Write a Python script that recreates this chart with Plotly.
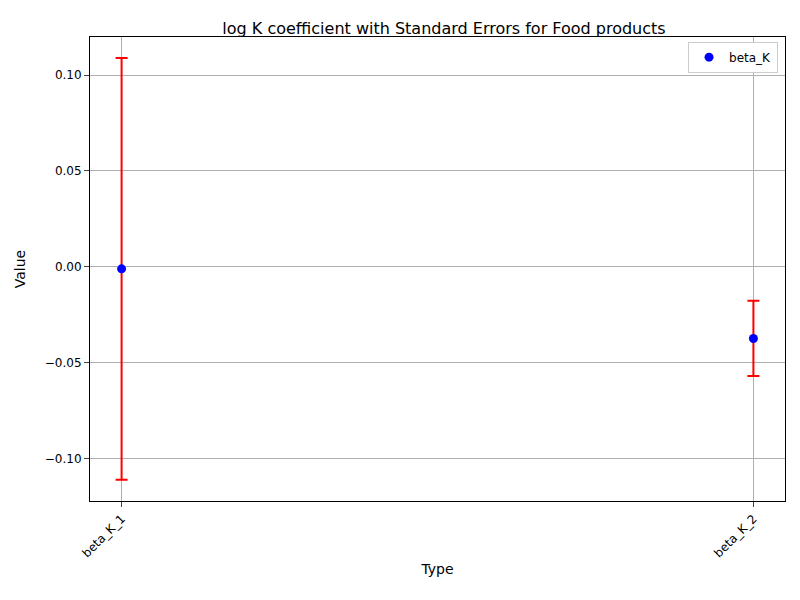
import plotly.graph_objects as go

types = ["beta_K_1", "beta_K_2"]
values = [-0.001, -0.0373]
errors = [0.1099, 0.0196]

fig = go.Figure()
fig.add_trace(go.Scatter(
    x=[0, 1], y=values, mode="markers", name="beta_K",
    marker=dict(color="blue", size=9),
    error_y=dict(type="data", array=errors, color="red", thickness=2, width=6),
))

axis_common = dict(showline=True, linecolor="black", mirror=True, ticks="outside",
                   gridcolor="#b0b0b0", zeroline=False, tickfont=dict(size=12, color="black"))
fig.update_layout(
    width=800, height=600,
    plot_bgcolor="white", paper_bgcolor="white",
    font=dict(family="DejaVu Sans", size=12, color="black"),
    title=dict(text="log K coefficient with Standard Errors for Food products",
               x=0.545, xanchor="center", y=0.975, font=dict(size=16)),
    margin=dict(l=79, r=23, t=29, b=107),
    showlegend=True,
    legend=dict(x=0.99, y=0.99, xanchor="right", yanchor="top",
                bordercolor="#cccccc", borderwidth=1, bgcolor="white"),
    xaxis=dict(axis_common, range=[-0.05, 1.05], tickvals=[0, 1], ticktext=types,
               tickangle=-45, title=dict(text="Type", standoff=4)),
    yaxis=dict(axis_common, range=[-0.122, 0.1198], tickvals=[-0.10, -0.05, 0, 0.05, 0.10],
               ticktext=["\u22120.10", "\u22120.05", "0.00", "0.05", "0.10"],
               title=dict(text="Value")),
)
fig.write_html("out.html")
